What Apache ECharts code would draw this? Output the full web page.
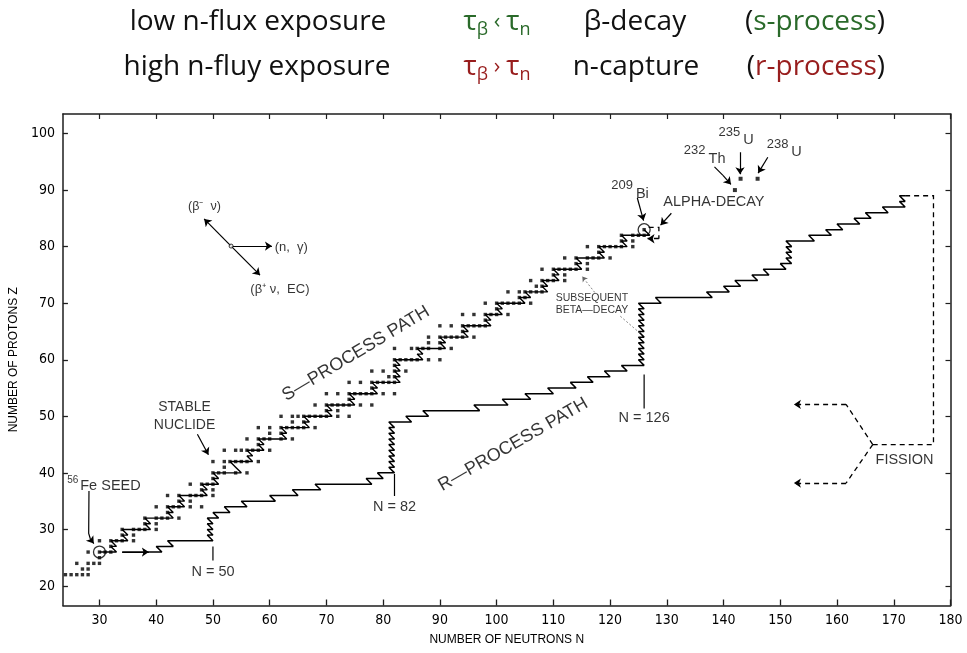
<!DOCTYPE html>
<html>
<head>
<meta charset="utf-8">
<script src="https://cdn.jsdelivr.net/npm/echarts@6/dist/echarts.min.js"></script>
<style>
  html, body { margin: 0; padding: 0; background: #ffffff; }
  #chart { width: 967px; height: 653px; }
</style>
</head>
<body>
<div id="chart"></div>
<script>
// ---- axis ticks ----
const neutronTicks = [30, 40, 50, 60, 70, 80, 90, 100, 110, 120, 130, 140, 150, 160, 170, 180];
const protonTicks = [20, 30, 40, 50, 60, 70, 80, 90, 100];

// ---- stable nuclides: proton number and the neutron numbers of its stable isotopes ----
const stableZ = [22, 23, 24, 25, 26, 27, 28, 29, 30, 31, 32, 33, 34, 35, 36, 37, 38, 39, 40, 41, 42,
  44, 45, 46, 47, 48, 49, 50, 51, 52, 53, 54, 55, 56, 57, 58, 59, 60, 62, 63, 64, 65, 66, 67, 68, 69,
  70, 71, 72, 73, 74, 75, 76, 77, 78, 79, 80, 81, 82, 83];
const stableN = [
  [24, 25, 26, 27, 28], [27, 28], [26, 28, 29, 30], [30], [28, 30, 31, 32], [32],
  [30, 32, 33, 34, 36], [34, 36], [34, 36, 37, 38, 40], [38, 40], [38, 40, 41, 42, 44], [42],
  [40, 42, 43, 44, 46, 48], [44, 46], [42, 44, 46, 47, 48, 50], [48, 50], [46, 48, 49, 50], [50],
  [50, 51, 52, 54, 56], [52], [50, 52, 53, 54, 55, 56, 58],
  [52, 54, 55, 56, 57, 58, 60], [58], [56, 58, 59, 60, 62, 64], [60, 62],
  [58, 60, 62, 63, 64, 65, 66, 68], [64, 66], [62, 64, 65, 66, 67, 68, 69, 70, 72, 74], [70, 72],
  [68, 70, 71, 72, 73, 74, 76, 78], [74], [70, 72, 74, 75, 76, 77, 78, 80, 82], [78],
  [74, 76, 78, 79, 80, 81, 82], [81, 82], [78, 80, 82, 84], [82], [82, 83, 84, 85, 86, 88, 90],
  [82, 85, 86, 87, 88, 90, 92], [88, 90], [88, 90, 91, 92, 93, 94, 96], [94],
  [90, 92, 94, 95, 96, 97, 98], [98], [94, 96, 98, 99, 100, 102], [100],
  [98, 100, 101, 102, 103, 104, 106], [104, 105], [102, 104, 105, 106, 107, 108], [107, 108],
  [106, 108, 109, 110, 112], [110, 112], [108, 110, 111, 112, 113, 114, 116], [114, 116],
  [112, 114, 116, 117, 118, 120], [118], [116, 118, 119, 120, 121, 122, 124], [122, 124],
  [122, 124, 125, 126], [126]
];

// ---- s-process path: runs of neutron captures [Z, first N, last N]; each run ends with a beta decay ----
const sProcessRuns = [
  [26, 30, 33], [27, 32, 33], [28, 32, 35], [29, 34, 35], [30, 34, 39], [31, 38, 39], [32, 38, 43],
  [33, 42, 43], [34, 42, 45], [35, 44, 45], [36, 44, 49], [37, 48, 49], [38, 48, 51], [39, 50, 51],
  [40, 50, 55], [41, 54, 54], [42, 53, 57], [43, 56, 57], [44, 56, 59], [45, 58, 59], [46, 58, 63],
  [47, 62, 63], [48, 62, 67], [49, 66, 67], [50, 66, 71], [51, 70, 71], [52, 70, 75], [53, 74, 75],
  [54, 74, 79], [55, 78, 79], [56, 78, 83], [57, 82, 83], [58, 82, 83], [59, 82, 83], [60, 82, 87],
  [61, 86, 87], [62, 86, 91], [63, 90, 91], [64, 90, 95], [65, 94, 95], [66, 94, 99], [67, 98, 99],
  [68, 98, 101], [69, 100, 101], [70, 100, 105], [71, 104, 106], [72, 105, 109], [73, 108, 109],
  [74, 108, 111], [75, 110, 111], [76, 110, 115], [77, 114, 115], [78, 114, 119], [79, 118, 119],
  [80, 118, 123], [81, 122, 123], [82, 122, 127], [83, 126, 126]
];

// ---- r-process path: same layout, far on the neutron-rich side ----
const rProcessRuns = [
  [26, 34, 41], [27, 40, 43], [28, 42, 50], [29, 49, 50], [30, 49, 50], [31, 49, 50], [32, 49, 51],
  [33, 50, 53], [34, 52, 56], [35, 55, 61], [36, 60, 65], [37, 64, 69], [38, 68, 78], [39, 77, 80],
  [40, 79, 82], [41, 81, 82], [42, 81, 82], [43, 81, 82], [44, 81, 82], [45, 81, 82], [46, 81, 82],
  [47, 81, 82], [48, 81, 82], [49, 81, 85], [50, 84, 88], [51, 87, 97], [52, 96, 102], [53, 101, 106],
  [54, 105, 110], [55, 109, 114], [56, 113, 117], [57, 116, 120], [58, 119, 123], [59, 122, 126],
  [60, 125, 126], [61, 125, 126], [62, 125, 126], [63, 125, 126], [64, 125, 126], [65, 125, 126],
  [66, 125, 126], [67, 125, 126], [68, 125, 126], [69, 125, 126], [70, 125, 129], [71, 128, 138],
  [72, 137, 141], [73, 140, 143], [74, 142, 146], [75, 145, 148], [76, 147, 151], [77, 150, 152],
  [78, 151, 152], [79, 151, 152], [80, 151, 152], [81, 151, 156], [82, 155, 159], [83, 158, 161],
  [84, 160, 164], [85, 163, 166], [86, 165, 169], [87, 168, 172], [88, 171, 172], [89, 171, 172]
];

// ---- individual nuclides ----
const circledN = [30, 126];           // 56Fe seed, 209Bi
const circledZ = [26, 83];
const actinideN = [142, 143, 146];    // 232Th, 235U, 238U
const actinideZ = [90, 92, 92];

// ---- schematic decay / fission routes [N, Z] ----
const seedArrow = [[34, 26], [38.7, 26]];
const alphaLoop = [[126.8, 83.4], [128.6, 83.4], [128.6, 81.4], [126.6, 81.4]];
const fissionLoop = [[172, 89], [177, 89], [177, 45], [166.3, 45]];
const fissionUpper = [[166.3, 45], [161.6, 52.1], [152.4, 52.1]];
const fissionLower = [[166.3, 45], [161.6, 38.2], [152.4, 38.2]];

// ---- closed neutron shells marked below the r-process path ----
const magicN = [50, 82, 126];
const magicLabelZ = [22.4, 34, 49.7];
const magicTopZ = [27, 39.8, 57.4];
const magicBottomZ = [24.5, 35.9, 51.4];

// ---------------------------------------------------------------
const runsToPath = runs => {
  const pts = [];
  runs.forEach(([z, a, b]) => { pts.push([a, z]); pts.push([b, z]); });
  return pts;
};
const stablePoints = [];
stableZ.forEach((z, i) => stableN[i].forEach(n => stablePoints.push([n, z])));

// a route drawn as a polyline whose final leg carries an arrowhead
const bodyOf = pts => ({ coords: pts.slice(0, -1) });
const headOf = pts => ({ coords: pts.slice(-2) });

const INK = '#000000';
const SANS = "'Liberation Sans', Arial, Helvetica, sans-serif";
const NARROW = "'Liberation Sans Narrow', 'DejaVu Sans Condensed', 'Liberation Sans', sans-serif";
const TITLE_FONT = "'Open Sans', 'Noto Sans', sans-serif";
const GREEN = '#2a6a2a';
const RED = '#981d1d';

const isoRich = {
  sup: { fontSize: 13, lineHeight: 13, verticalAlign: 'top', fontFamily: SANS, color: INK },
  el: { fontSize: 14.5, lineHeight: 22, verticalAlign: 'bottom', fontFamily: SANS, color: INK, padding: [0, 0, 0, 3] },
  small: { fontSize: 10, lineHeight: 10, verticalAlign: 'top', fontFamily: SANS, color: INK },
  big: { fontSize: 14.5, lineHeight: 18, verticalAlign: 'bottom', fontFamily: SANS, color: INK, padding: [0, 0, 0, 2] }
};

// text annotations placed in data coordinates
const notes = [
  { at: [45, 50.1], text: 'STABLE\nNUCLIDE', size: 14, lh: 18 },
  { at: [24.3, 38], text: '{small|56}{big|Fe SEED}', left: true },
  { at: [50, magicLabelZ[0]], text: 'N = 50', size: 14.5 },
  { at: [82, magicLabelZ[1]], text: 'N = 82', size: 14.5 },
  { at: [126, magicLabelZ[2]], text: 'N = 126', size: 14.5 },
  { at: [75.2, 61.1], text: 'S\u2014PROCESS PATH', size: 18, rotate: 31 },
  { at: [102.9, 45.0], text: 'R\u2014PROCESS PATH', size: 18, rotate: 30 },
  { at: [116.8, 69.8], text: 'SUBSEQUENT\nBETA\u2014DECAY', size: 10.5, lh: 11.6 },
  { at: [120.2, 90.0], text: '{sup|209}{el|Bi}', left: true },
  { at: [138.3, 87.9], text: 'ALPHA-DECAY', size: 14.5 },
  { at: [133.0, 96.2], text: '{sup|232}{el|Th}', left: true },
  { at: [139.1, 99.4], text: '{sup|235}{el|U}', left: true },
  { at: [147.6, 97.3], text: '{sup|238}{el|U}', left: true },
  { at: [48.5, 87.1], text: '(\u03b2\u207b  \u03bd)', size: 12.5 },
  { at: [63.8, 79.9], text: '(n,  \u03b3)', size: 13 },
  { at: [61.8, 72.4], text: '(\u03b2\u207a \u03bd,  EC)', size: 13 },
  { at: [171.9, 42.3], text: 'FISSION', size: 14.5 }
];

const noteData = notes.map(n => ({
  value: n.at,
  label: {
    show: true,
    position: n.left ? 'right' : 'inside',
    distance: 0,
    formatter: n.text,
    rotate: n.rotate || 0,
    fontSize: n.size || 14,
    lineHeight: n.lh || undefined,
    fontFamily: SANS,
    color: INK,
    textBorderWidth: 0,
    align: n.left ? 'left' : 'center',
    verticalAlign: 'middle',
    rich: n.left ? isoRich : undefined
  }
}));

// leader routes (solid), last leg gets the arrowhead
const seedLeader = [[28.15, 36.8], [28.1, 29.3], [28.4, 28.3], [29.0, 27.5]];
const thoriumLeader = [[138.4, 94.1], [139.9, 92.6], [141.3, 91.0]];
const straightArrows = [
  [[47.26, 46.83], [49.2, 43.2]],     // stable nuclide
  [[124.8, 88.6], [125.9, 84.6]],     // 209Bi
  [[130.8, 85.9], [128.9, 83.8]],     // alpha decay
  [[142.9, 96.7], [142.9, 92.8]],     // 235U
  [[147.8, 95.8], [146.1, 93.0]],     // 238U
  [[53.2, 80.1], [48.45, 84.9]],      // beta-minus direction
  [[53.2, 80.1], [58.3, 74.95]],      // beta-plus / EC direction
  [[53.2, 80.1], [60.4, 80.1]],       // neutron capture direction
  seedArrow
];
const reactionHub = [[53.2, 80.1]];

const shellLines = magicN.map((n, i) => ({ coords: [[n, magicTopZ[i]], [n, magicBottomZ[i]]] }));

const chart = echarts.init(document.getElementById('chart'), null, { renderer: 'canvas' });

const axisLine = { show: true, onZero: false, lineStyle: { color: '#1e1e1e', width: 1.5 } };
const xBase = { type: 'value', min: 23.56, max: 180, splitLine: { show: false } };
const yBase = { type: 'value', min: 16.55, max: 103.45, splitLine: { show: false } };
const solid = { color: INK, width: 1.2, opacity: 1 };
const dashed = { color: INK, width: 1.3, type: [5, 4], opacity: 1 };

chart.setOption({
  animation: false,
  backgroundColor: '#ffffff',
  grid: { left: 59, right: 16.5, top: 114, bottom: 47.5, containLabel: false },
  xAxis: [
    Object.assign({}, xBase, {
      position: 'bottom',
      axisLine: axisLine,
      axisTick: { show: true, inside: true, length: 6, customValues: neutronTicks, lineStyle: { color: '#1e1e1e', width: 1.3 } },
      axisLabel: { show: true, customValues: neutronTicks, margin: 8, fontSize: 14, color: INK, fontFamily: NARROW },
      name: 'NUMBER OF NEUTRONS N', nameLocation: 'middle', nameGap: 28,
      nameTextStyle: { fontSize: 12, color: INK, fontFamily: SANS }
    }),
    Object.assign({}, xBase, {
      position: 'top',
      axisLine: axisLine,
      axisTick: { show: true, inside: true, length: 5, customValues: neutronTicks, lineStyle: { color: '#1e1e1e', width: 1.2 } },
      axisLabel: { show: false }
    })
  ],
  yAxis: [
    Object.assign({}, yBase, {
      position: 'left',
      axisLine: axisLine,
      axisTick: { show: true, inside: true, length: 5, customValues: protonTicks, lineStyle: { color: '#1e1e1e', width: 1.3 } },
      axisLabel: { show: true, customValues: protonTicks, margin: 8, fontSize: 14, color: INK, fontFamily: NARROW },
      name: 'NUMBER OF PROTONS Z', nameLocation: 'middle', nameGap: 41, nameRotate: 90,
      nameTextStyle: { fontSize: 12, color: INK, fontFamily: SANS }
    }),
    Object.assign({}, yBase, {
      position: 'right',
      axisLine: axisLine,
      axisTick: { show: true, inside: true, length: 5, customValues: protonTicks, lineStyle: { color: '#1e1e1e', width: 1.2 } },
      axisLabel: { show: false }
    })
  ],
  graphic: [
    { type: 'text', x: 258, y: 22, style: { text: 'low n-flux exposure', font: '28px ' + TITLE_FONT, fill: '#111', align: 'center', verticalAlign: 'middle' } },
    { type: 'text', x: 497, y: 22, style: {
        text: '{t|\u03c4}{s|\u03b2}{c| \u2039 }{t|\u03c4}{s|n}', align: 'center', verticalAlign: 'middle',
        rich: {
          t: { fontSize: 28, lineHeight: 34, fontFamily: TITLE_FONT, fill: GREEN },
          c: { fontSize: 22, lineHeight: 34, fontFamily: TITLE_FONT, fill: GREEN },
          s: { fontSize: 18, lineHeight: 18, verticalAlign: 'bottom', fontFamily: TITLE_FONT, fill: GREEN }
        } } },
    { type: 'text', x: 635, y: 22, style: { text: '\u03b2-decay', font: '28px ' + TITLE_FONT, fill: '#111', align: 'center', verticalAlign: 'middle' } },
    { type: 'text', x: 885, y: 22, style: {
        text: '{p|(}{g|s-process}{p|)}', align: 'right', verticalAlign: 'middle',
        rich: {
          p: { fontSize: 28, fontFamily: TITLE_FONT, fill: '#111' },
          g: { fontSize: 28, fontFamily: TITLE_FONT, fill: GREEN }
        } } },
    { type: 'text', x: 257, y: 67, style: { text: 'high n-fluy exposure', font: '28px ' + TITLE_FONT, fill: '#111', align: 'center', verticalAlign: 'middle' } },
    { type: 'text', x: 497, y: 67, style: {
        text: '{t|\u03c4}{s|\u03b2}{c| \u203a }{t|\u03c4}{s|n}', align: 'center', verticalAlign: 'middle',
        rich: {
          t: { fontSize: 28, lineHeight: 34, fontFamily: TITLE_FONT, fill: RED },
          c: { fontSize: 22, lineHeight: 34, fontFamily: TITLE_FONT, fill: RED },
          s: { fontSize: 18, lineHeight: 18, verticalAlign: 'bottom', fontFamily: TITLE_FONT, fill: RED }
        } } },
    { type: 'text', x: 636, y: 67, style: { text: 'n-capture', font: '28px ' + TITLE_FONT, fill: '#111', align: 'center', verticalAlign: 'middle' } },
    { type: 'text', x: 885, y: 67, style: {
        text: '{p|(}{r|r-process}{p|)}', align: 'right', verticalAlign: 'middle',
        rich: {
          p: { fontSize: 28, fontFamily: TITLE_FONT, fill: '#111' },
          r: { fontSize: 28, fontFamily: TITLE_FONT, fill: RED }
        } } }
  ],
  series: [
    {
      name: 's-process path', type: 'line', data: runsToPath(sProcessRuns),
      symbol: 'none', lineStyle: { color: INK, width: 1.4 }, z: 3, silent: true
    },
    {
      name: 'r-process path', type: 'line', data: runsToPath(rProcessRuns),
      symbol: 'none', lineStyle: { color: INK, width: 1.5 }, z: 3, silent: true
    },
    {
      name: 'stable nuclides', type: 'scatter', data: stablePoints,
      symbol: 'rect', symbolSize: 3.4, itemStyle: { color: INK }, z: 4, silent: true
    },
    {
      name: 'circled nuclides', type: 'scatter',
      data: circledN.map((n, i) => [n, circledZ[i]]),
      symbol: 'circle', symbolSize: 12,
      itemStyle: { color: 'rgba(0,0,0,0)', borderColor: INK, borderWidth: 1.3 }, z: 5, silent: true
    },
    {
      name: 'actinides', type: 'scatter',
      data: actinideN.map((n, i) => [n, actinideZ[i]]),
      symbol: 'rect', symbolSize: 4, itemStyle: { color: INK }, z: 4, silent: true
    },
    {
      name: 'reaction hub', type: 'scatter', data: reactionHub,
      symbol: 'circle', symbolSize: 4,
      itemStyle: { color: '#fff', borderColor: INK, borderWidth: 1 }, z: 6, silent: true
    },
    {
      name: 'leader bodies', type: 'lines', coordinateSystem: 'cartesian2d', polyline: true,
      data: [bodyOf(seedLeader), bodyOf(thoriumLeader)].concat(shellLines),
      symbol: 'none', lineStyle: solid, z: 5, silent: true
    },
    {
      name: 'arrows', type: 'lines', coordinateSystem: 'cartesian2d',
      data: straightArrows.map(c => ({ coords: c })).concat([headOf(seedLeader), headOf(thoriumLeader)]),
      symbol: ['none', 'arrow'], symbolSize: 7, lineStyle: solid, z: 5, silent: true
    },
    {
      name: 'beta-decay leaders', type: 'lines', coordinateSystem: 'cartesian2d',
      data: [
        { coords: [[117.3, 71.9], [115.1, 74.7]], symbol: ['none', 'arrow'] },
        { coords: [[121.8, 67.7], [125.5, 64.5]], symbol: ['none', 'none'] }
      ],
      symbolSize: 5,
      lineStyle: { color: '#666', width: 0.8, type: [2, 2], opacity: 1 }, z: 5, silent: true
    },
    {
      name: 'fission and alpha routes', type: 'lines', coordinateSystem: 'cartesian2d', polyline: true,
      data: [{ coords: fissionLoop }, bodyOf(fissionUpper), bodyOf(fissionLower), bodyOf(alphaLoop)],
      symbol: 'none', lineStyle: dashed, z: 5, silent: true
    },
    {
      name: 'route heads', type: 'lines', coordinateSystem: 'cartesian2d',
      data: [headOf(fissionUpper), headOf(fissionLower), headOf(alphaLoop)],
      symbol: ['none', 'arrow'], symbolSize: 7, lineStyle: dashed, z: 5, silent: true
    },
    {
      name: 'notes', type: 'scatter', data: noteData,
      symbolSize: 0, itemStyle: { color: 'rgba(0,0,0,0)' }, z: 6, silent: true
    }
  ]
});
</script>
</body>
</html>
